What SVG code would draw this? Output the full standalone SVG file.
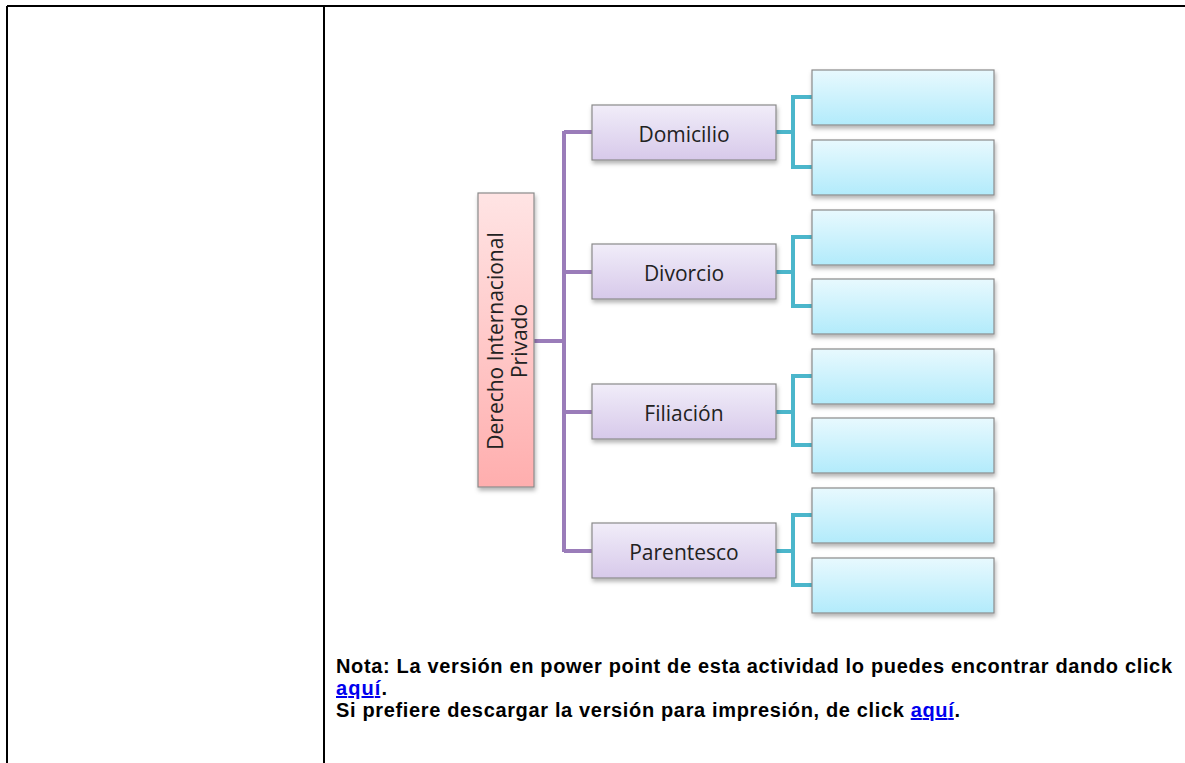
<svg xmlns="http://www.w3.org/2000/svg" width="1185" height="763" viewBox="0 0 1185 763">
<defs>
<linearGradient id="gPink" x1="0" y1="0" x2="0" y2="1"><stop offset="0" stop-color="#ffe4e4"/><stop offset="1" stop-color="#ffaeae"/></linearGradient>
<linearGradient id="gPurple" x1="0" y1="0" x2="0" y2="1"><stop offset="0" stop-color="#f1edf9"/><stop offset="1" stop-color="#d7c9ea"/></linearGradient>
<linearGradient id="gBlue" x1="0" y1="0" x2="0" y2="1"><stop offset="0" stop-color="#e8f9fe"/><stop offset="1" stop-color="#b2ebfb"/></linearGradient>
<filter id="sh" x="-10%" y="-10%" width="130%" height="140%"><feDropShadow dx="1" dy="3" stdDeviation="2" flood-color="#000" flood-opacity="0.3"/></filter>
</defs>
<style>
.frame{stroke:#000;stroke-width:2;fill:none}
.box{stroke:#8a8a8a;stroke-width:1.2;filter:url(#sh)}
.pink{fill:url(#gPink)}
.purple{fill:url(#gPurple)}
.blue{fill:url(#gBlue)}
.lbl{font-family:"Open Sans","Noto Sans",sans-serif;font-size:21px;fill:#222;text-anchor:middle}
.pc{stroke:#9a7cb9;stroke-width:4;fill:none}
.bc{stroke:#4bb6cb;stroke-width:4;fill:none}
.note{font-family:"Liberation Sans",Arial,sans-serif;font-weight:bold;font-size:20px;fill:#000}
.link{fill:#0000ee;text-decoration:underline}
</style>
<rect width="1185" height="763" fill="#fff"/>
<g id="frame">
<path class="frame" d="M7,6 H1185 M7,6 V763 M324,6 V763"/>
</g>
<g id="connectors">
<path class="pc" d="M534,341 H564 M564,131 V552 M564,132 H592 M564,272 H592 M564,412 H592 M564,551 H592"/>
<path class="bc" d="M776,132 H793 M812,97 H793 V167 H812"/>
<path class="bc" d="M776,272 H793 M812,237 H793 V306 H812"/>
<path class="bc" d="M776,412 H793 M812,376 H793 V445 H812"/>
<path class="bc" d="M776,551 H793 M812,515 H793 V585 H812"/>
</g>
<g id="root">
<rect class="box pink" x="478" y="193" width="56" height="294"/>
<text class="lbl" transform="translate(506,341) rotate(-90)"><tspan x="0" y="-3">Derecho Internacional</tspan><tspan x="0" y="21">Privado</tspan></text>
</g>
<g id="domicilio"><rect class="box purple" x="592" y="105" width="184" height="55"/><text class="lbl" x="684" y="142">Domicilio</text></g>
<g id="divorcio"><rect class="box purple" x="592" y="244" width="184" height="55"/><text class="lbl" x="684" y="281">Divorcio</text></g>
<g id="filiacion"><rect class="box purple" x="592" y="384" width="184" height="55"/><text class="lbl" x="684" y="421">Filiación</text></g>
<g id="parentesco"><rect class="box purple" x="592" y="523" width="184" height="55"/><text class="lbl" x="684" y="560">Parentesco</text></g>
<g id="b1"><rect class="box blue" x="812" y="70" width="182" height="55"/></g>
<g id="b2"><rect class="box blue" x="812" y="140" width="182" height="55"/></g>
<g id="b3"><rect class="box blue" x="812" y="210" width="182" height="55"/></g>
<g id="b4"><rect class="box blue" x="812" y="279" width="182" height="55"/></g>
<g id="b5"><rect class="box blue" x="812" y="349" width="182" height="55"/></g>
<g id="b6"><rect class="box blue" x="812" y="418" width="182" height="55"/></g>
<g id="b7"><rect class="box blue" x="812" y="488" width="182" height="55"/></g>
<g id="b8"><rect class="box blue" x="812" y="558" width="182" height="55"/></g>
<g id="note">
<text class="note" x="336" y="673" textLength="836" lengthAdjust="spacing">Nota: La versión en power point de esta actividad lo puedes encontrar dando click</text>
<text class="note" x="336" y="695" textLength="51" lengthAdjust="spacing"><tspan class="link">aquí</tspan>.</text>
<text class="note" x="336" y="717" textLength="624" lengthAdjust="spacing">Si prefiere descargar la versión para impresión, de click <tspan class="link">aquí</tspan>.</text>
</g>
</svg>
